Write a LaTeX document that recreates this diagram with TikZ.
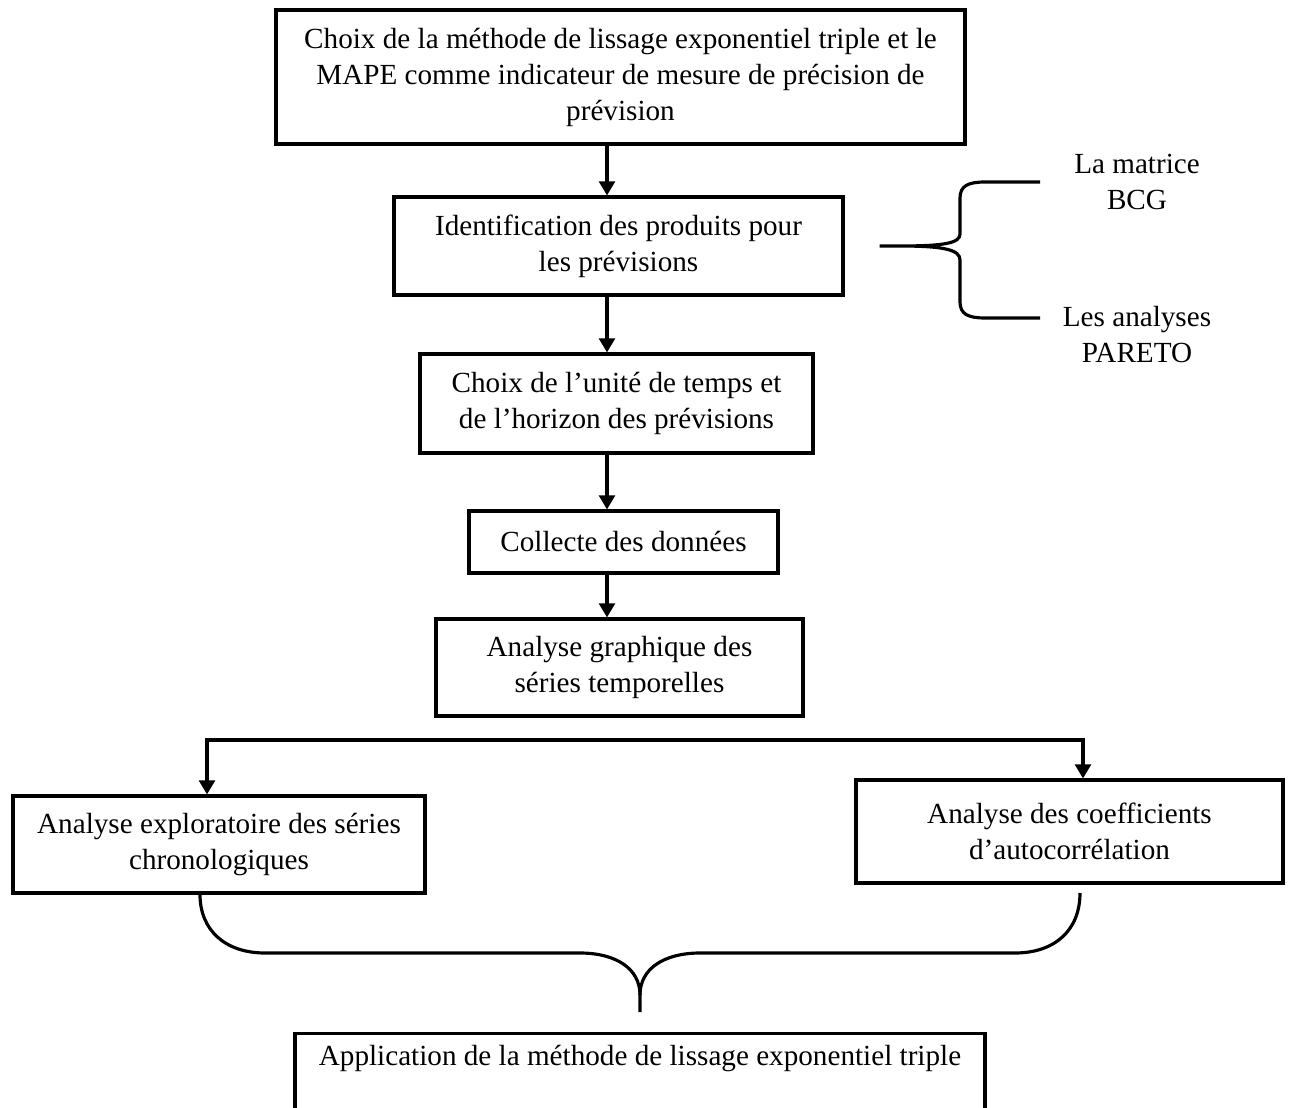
\documentclass[tikz,border=0pt]{standalone}
\usepackage{fontspec}
\setmainfont{Liberation Serif}
\usepackage{tikz}
\usetikzlibrary{arrows.meta}

\begin{document}
\begin{tikzpicture}[
  x=0.02cm, y=-0.02cm,
  every node/.style={font=\fontsize{16.6pt}{20.5pt}\selectfont},
  box/.style={draw, line width=1.8pt, align=center, inner sep=0pt},
  arr/.style={line width=1.8pt, -{Triangle[length=8pt,width=9pt]}},
  arrb/.style={line width=1.8pt, {Triangle[length=8pt,width=9pt]}-{Triangle[length=8pt,width=9pt]}},
  brc/.style={line width=1.8pt}
]
\useasboundingbox (0,0) rectangle (1289,1108);
\node[box, minimum width=13.78cm, minimum height=2.68cm] (choix)
  at (620.5,77) {Choix de la méthode de lissage exponentiel triple et le\\
  MAPE comme indicateur de mesure de précision de\\prévision};
\node[box, minimum width=8.98cm, minimum height=1.96cm] (ident)
  at (618.5,246) {Identification des produits pour\\les prévisions};
\node[box, minimum width=7.86cm, minimum height=1.98cm] (unite)
  at (616.5,403.5) {Choix de l’unité de temps et\\de l’horizon des prévisions};
\node[box, minimum width=6.18cm, minimum height=1.24cm] (collecte)
  at (623.5,542) {Collecte des données};
\node[box, minimum width=7.34cm, minimum height=1.94cm] (graph)
  at (619.5,667.5) {Analyse graphique des\\séries temporelles};
\node[box, minimum width=8.24cm, minimum height=1.94cm] (explo)
  at (219,844.5) {Analyse exploratoire des séries\\chronologiques};
\node[box, minimum width=8.54cm, minimum height=2.06cm] (autoc)
  at (1069.5,831.5) {Analyse des coefficients\\d’autocorrélation};
\node[box, anchor=north, minimum width=13.8cm, text height=0.64cm,
  text depth=2cm] (appli)
  at (640,1032) {Application de la méthode de lissage exponentiel triple};
\node[align=center] (bcg) at (1137,181.5) {La matrice\\BCG};
\node[align=center] (pareto) at (1137,334.5) {Les analyses\\PARETO};
\coordinate (ax) at (607,0);
\draw[arr] (choix.south -| ax) -- (ident.north -| ax);
\draw[arr] (ident.south -| ax) -- (unite.north -| ax);
\draw[arr] (unite.south -| ax) -- (collecte.north -| ax);
\draw[arr] (collecte.south -| ax) -- (graph.north -| ax);
\coordinate (gl) at (207,740);
\coordinate (gr) at (1083,740);
\draw[arrb] (explo.north -| gl) -- (gl) -- (gr) -- (autoc.north -| gr);
\coordinate (bt) at ([xshift=0.7cm]ident.east);
\draw[brc] (bt) -- (900,246) .. controls (945,246) and (960,243) .. (960,234)
  -- (960,198) .. controls (960,186) and (968,182) .. (985,182) -- (1040,182)
  (bt) -- (900,246) .. controls (945,246) and (960,250) .. (960,260)
  -- (960,302) .. controls (960,314) and (968,318) .. (985,318) -- (1040,318);
\draw[brc] ([xshift=-0.38cm]explo.south) .. controls (200,930) and (225,953) .. (265,953)
  -- (580,953) .. controls (615,953) and (640,968) .. (640,995) -- (640,1012);
\draw[brc] (640,995) .. controls (640,968) and (665,953) .. (700,953)
  -- (1015,953) .. controls (1055,953) and (1080,930) .. (1080,893);
\end{tikzpicture}
\end{document}
